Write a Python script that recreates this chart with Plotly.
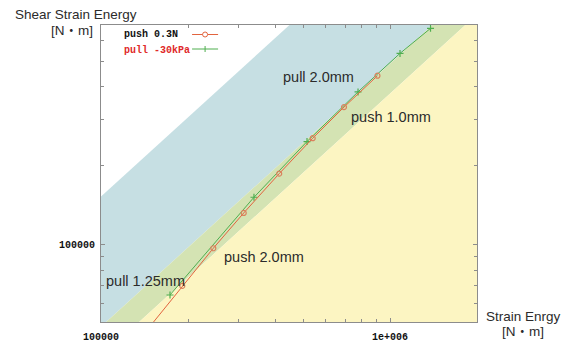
import numpy as np
import plotly.graph_objects as go

# --- measured series -------------------------------------------------------
push_strain = [1.26e5, 1.911e5, 2.447e5, 3.118e5, 4.136e5, 5.401e5, 6.932e5, 9.05e5]
push_shear = [3.95e4, 6.985e4, 9.715e4, 1.323e5, 1.866e5, 2.545e5, 3.342e5, 4.398e5]

pull_strain = [1.733e5, 3.383e5, 5.162e5, 7.751e5, 1.083e6, 1.381e6]
pull_shear = [6.452e4, 1.518e5, 2.471e5, 3.817e5, 5.347e5, 6.657e5]

# shear / strain ratios bounding the shaded regions
ratio_pull_upper = 1.527
ratio_pull_lower = 0.376
ratio_push_upper = 0.489

region_labels = ["pull 2.0mm", "push 1.0mm", "push 2.0mm", "pull 1.25mm"]
x_ticks = [1e5, 1e6]
x_tick_text = ["100000", "1e+006"]
y_ticks = [1e5]
y_tick_text = ["100000"]

X_RANGE = [5.0, np.log10(2e6)]
Y_RANGE = [4.707, 5.836]

C_BLUE = "#c6dfe3"
C_GREEN = "#d4e3b3"
C_YELLOW = "#fcf5c2"
C_RED = "#e2643e"
C_GRN = "#4fae4f"

fig = go.Figure()

xa, xb = 1e4, 1e7
ylow = 1e3


def band(c_hi, c_lo, color):
    xs = [xa, xb, xb, xa, xa]
    ys = [c_hi * xa, c_hi * xb, c_lo * xb if c_lo else ylow, c_lo * xa if c_lo else ylow, c_hi * xa]
    fig.add_trace(go.Scatter(x=xs, y=ys, mode="lines", fill="toself", fillcolor=color,
                             line=dict(width=0, color=color), hoverinfo="skip", showlegend=False))


band(ratio_pull_upper, ratio_push_upper, C_BLUE)
band(ratio_push_upper, ratio_pull_lower, C_GREEN)
band(ratio_pull_lower, None, C_YELLOW)

fig.add_trace(go.Scatter(x=pull_strain, y=pull_shear, mode="lines+markers", name="pull -30kPa",
                         line=dict(color=C_GRN, width=1),
                         marker=dict(symbol="cross-thin", size=5, line=dict(color=C_GRN, width=1.2)),
                         showlegend=False))
fig.add_trace(go.Scatter(x=push_strain, y=push_shear, mode="lines+markers", name="push 0.3N",
                         line=dict(color=C_RED, width=1),
                         marker=dict(symbol="circle-open", size=5, color="#d9825e",
                                     line=dict(color="#d9825e", width=1.2)),
                         showlegend=False))

minor_x = [k * 1e5 for k in range(2, 10)]
minor_y = [k * 1e4 for k in range(6, 10)] + [k * 1e5 for k in range(2, 7)]

axis_common = dict(type="log", showgrid=False, zeroline=False, showline=True,
                   linecolor="#8c8c8c", linewidth=1.2, mirror="ticks", automargin=False,
                   ticks="inside", ticklen=4, tickcolor="#8c8c8c",
                   tickfont=dict(family="Liberation Mono", size=10, color="#111", weight="bold"))

fig.update_xaxes(range=X_RANGE, tickvals=x_ticks, ticktext=x_tick_text, ticklabelstandoff=5,
                 minor=dict(ticks="inside", ticklen=3, tickcolor="#8c8c8c", tickvals=minor_x),
                 **axis_common)
fig.update_yaxes(range=Y_RANGE, tickvals=y_ticks, ticktext=y_tick_text, ticklabelstandoff=3,
                 minor=dict(ticks="inside", ticklen=3, tickcolor="#8c8c8c", tickvals=minor_y),
                 **axis_common)

W, H = 570, 345
L, R, T, B = 101, 93.3, 25, 23
PW, PH = W - L - R, H - T - B


def px(x):
    return (x - L) / PW


def py(y):
    return (H - B - y) / PH


text_font = dict(family="Liberation Sans, Noto Sans CJK JP", size=14.5, color="#2b2b2b")
label_font = dict(family="Liberation Sans, Noto Sans CJK JP", size=13.5, color="#2b2b2b")

annotations = []
for text, (cx, cy) in zip(region_labels, [(318.8, 76.7), (390.8, 117.3), (264.2, 256.7), (145.2, 280.7)]):
    annotations.append(dict(text=text, x=px(cx), y=py(cy), xref="paper", yref="paper",
                            showarrow=False, font=text_font, xanchor="center", yanchor="middle"))

annotations += [
    dict(text="Shear Strain Energy", x=px(13), y=py(15), xanchor="left", yanchor="middle"),
    dict(text="[N・m]", x=px(95), y=py(30), xanchor="right", yanchor="middle"),
    dict(text="Strain Enrgy", x=px(523), y=py(316), xanchor="center", yanchor="middle"),
    dict(text="[N・m]", x=px(523), y=py(331), xanchor="center", yanchor="middle"),
]
for a in annotations[-4:]:
    a.update(xref="paper", yref="paper", showarrow=False, font=label_font)

# legend drawn inside the plot: label on the left, line sample on the right
leg_font = dict(family="Liberation Mono", size=10, weight="bold")
annotations += [
    dict(text="push 0.3N", x=px(122), y=py(35), xref="paper", yref="paper", showarrow=False,
         xanchor="left", yanchor="middle", font=dict(color="#111", **leg_font)),
    dict(text="pull -30kPa", x=px(122), y=py(50.5), xref="paper", yref="paper", showarrow=False,
         xanchor="left", yanchor="middle", font=dict(color="#e02a2a", **leg_font)),
]

shapes = [
    dict(type="line", xref="paper", yref="paper", x0=px(192), x1=px(218), y0=py(34.5), y1=py(34.5),
         line=dict(color=C_RED, width=1)),
    dict(type="circle", xref="paper", yref="paper", xsizemode="pixel", ysizemode="pixel",
         xanchor=px(205), yanchor=py(34.5), x0=-2.5, x1=2.5, y0=-2.5, y1=2.5,
         line=dict(color=C_RED, width=1), fillcolor="white"),
    dict(type="line", xref="paper", yref="paper", x0=px(192), x1=px(218), y0=py(49), y1=py(49),
         line=dict(color=C_GRN, width=1)),
    dict(type="line", xref="paper", yref="paper", x0=px(205), x1=px(205), y0=py(46), y1=py(52),
         line=dict(color=C_GRN, width=1)),
]

fig.update_layout(width=W, height=H, margin=dict(l=L, r=R, t=T, b=B),
                  paper_bgcolor="white", plot_bgcolor="white",
                  annotations=annotations, shapes=shapes, showlegend=False)

fig.write_html("out.html")
